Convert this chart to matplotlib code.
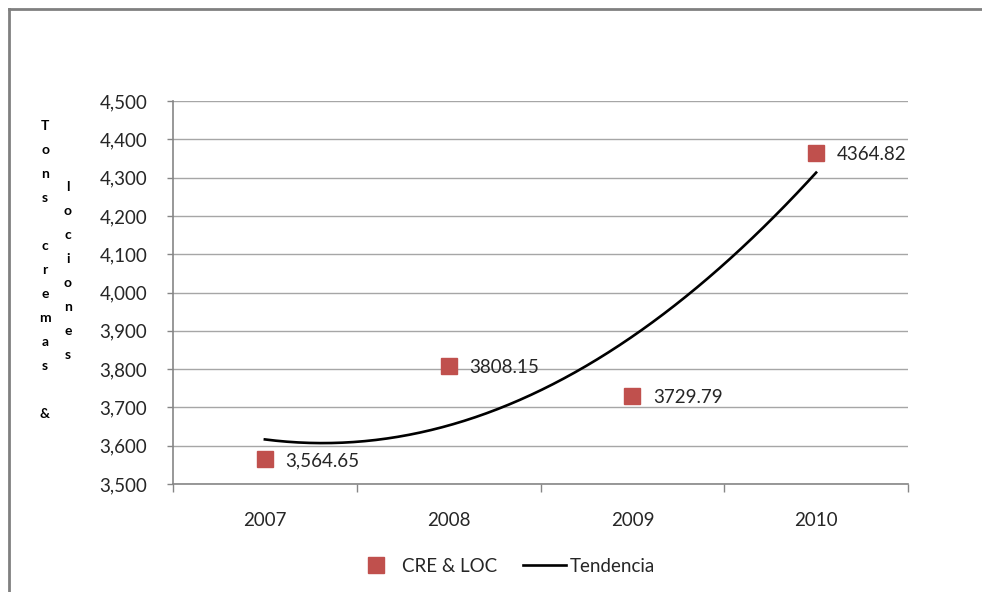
import numpy as np
import matplotlib
matplotlib.use("Agg")
import matplotlib.pyplot as plt
from matplotlib.lines import Line2D

plt.rcParams['font.family'] = ['Lato', 'DejaVu Sans']

years = ['2007', '2008', '2009', '2010']
values = [3564.65, 3808.15, 3729.79, 4364.82]
value_labels = ['3,564.65', '3808.15', '3729.79', '4364.82']
y_ticks = [3500, 3600, 3700, 3800, 3900, 4000, 4100, 4200, 4300, 4400, 4500]
ylabel_col1 = 'Tons cremas &'
ylabel_col2 = 'lociones'

red = '#C0504D'
grey = '#868686'
text_col = '#262626'
fs = 13.5

fig = plt.figure(figsize=(9.82, 5.92), dpi=100)
W, H = 982, 592
ax = fig.add_axes([173 / W, 1 - 484 / H, (908 - 173) / W, (484 - 101) / H])

x = np.arange(len(years))

# second-order polynomial trend over the series
coef = np.polyfit(x, values, 2)
xs = np.linspace(x[0], x[-1], 200)
ax.plot(xs, np.polyval(coef, xs), color='black', lw=1.9, zorder=3, label='Tendencia')

ax.plot(x, values, linestyle='none', marker='s', markersize=11, color=red,
        markeredgecolor=red, zorder=4, label='CRE & LOC')

for xi, v, lab in zip(x, values, value_labels):
    ax.annotate(lab, (xi, v), xytext=(15, -1), textcoords='offset points',
                ha='left', va='center', fontsize=fs, color=text_col, zorder=5)

ax.set_xlim(-0.5, len(years) - 0.5)
ax.set_ylim(3500, 4500)
ax.set_yticks(y_ticks)
ax.set_yticklabels([f'{t:,}' for t in y_ticks])
ax.yaxis.grid(True, color='#A6A6A6', lw=1.0)
ax.set_axisbelow(True)

ax.set_xticks(np.arange(-0.5, len(years), 1.0))
ax.set_xticklabels([])
ax.set_xticks(x, minor=True)
ax.set_xticklabels(years, minor=True)
ax.tick_params(axis='x', which='major', length=5.5, width=1, color=grey, direction='out')
ax.tick_params(axis='x', which='minor', length=0, pad=20, labelsize=fs, labelcolor=text_col)
ax.tick_params(axis='y', length=4.5, width=1, color=grey, pad=14, labelsize=fs,
               labelcolor=text_col)

for s in ['top', 'right']:
    ax.spines[s].set_visible(False)
for s in ['left', 'bottom']:
    ax.spines[s].set_color(grey)
    ax.spines[s].set_linewidth(1.2)

# stacked axis title in two columns
step = 24
def stacked(col, xpix, ycenter):
    n = len(col)
    y0 = ycenter - step * (n - 1) / 2
    for i, ch in enumerate(col):
        if ch.strip():
            fig.text(xpix / W, 1 - (y0 + i * step) / H, ch, ha='center', va='center',
                     fontsize=10, fontweight='bold', color='black')

stacked(ylabel_col1, 45, 270)
stacked(ylabel_col2, 68, 271)

# legend
handles = [Line2D([], [], linestyle='none', marker='s', markersize=11, color=red),
           Line2D([], [], color='black', lw=1.9)]
fig.legend(handles, ['CRE & LOC', 'Tendencia'], loc='center', ncol=2,
           bbox_to_anchor=(505 / W, 1 - 566 / H), frameon=False, fontsize=fs,
           handlelength=2.3, handletextpad=0.2, columnspacing=1.4,
           labelcolor=text_col)

# outer chart frame
fig.add_artist(Line2D([9 / W, 1.0], [1 - 9 / H, 1 - 9 / H], color='#808080', lw=2,
                      transform=fig.transFigure))
fig.add_artist(Line2D([9 / W, 9 / W], [1 - 9 / H, 0.0], color='#808080', lw=2,
                      transform=fig.transFigure))

fig.savefig('out.png', dpi=100, facecolor='white')
